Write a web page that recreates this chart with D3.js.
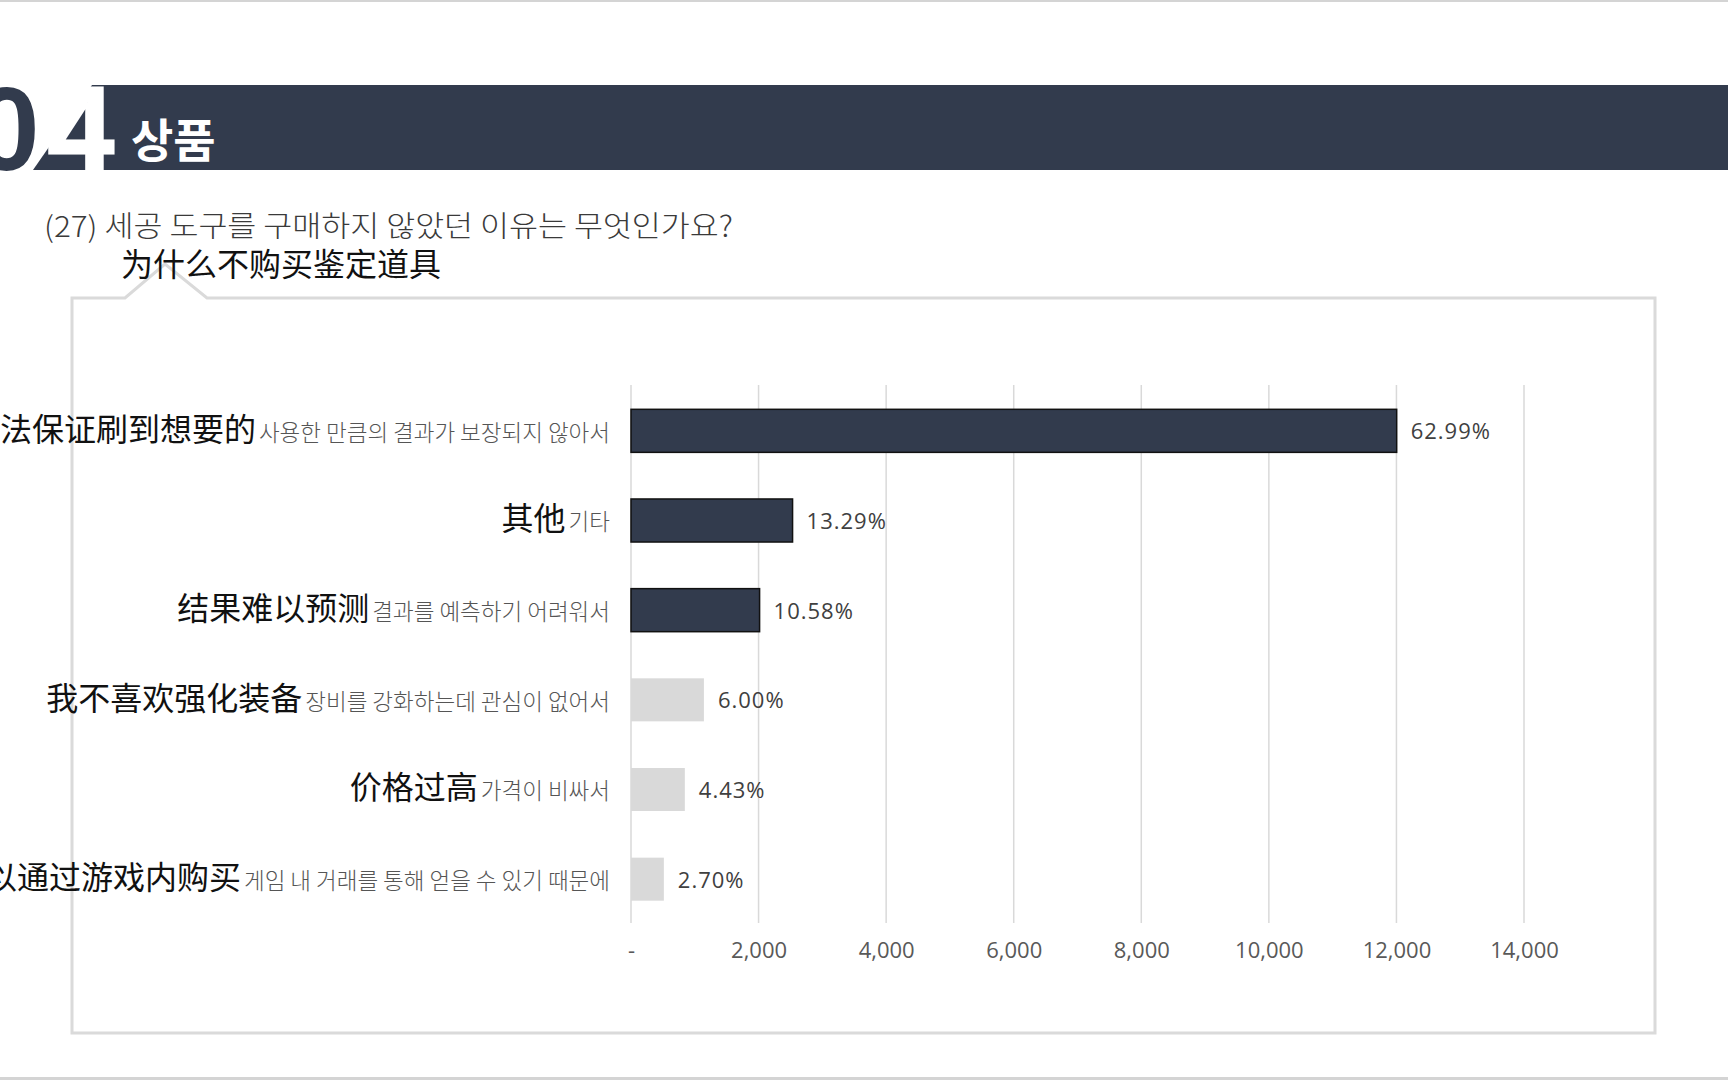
<!DOCTYPE html>
<html>
<head>
<meta charset="utf-8">
<script src="https://cdn.jsdelivr.net/npm/d3@7"></script>
<style>
  body { margin: 0; background: #fff; }
  svg { display: block; }
</style>
</head>
<body>
<svg id="chart"></svg>
<script>
// chart values
var categoriesZh = ["无法保证刷到想要的", "其他", "结果难以预测", "我不喜欢强化装备", "价格过高", "可以通过游戏内购买"]
var categoriesKo = ["사용한 만큼의 결과가 보장되지 않아서", "기타", "결과를 예측하기 어려워서",
                    "장비를 강화하는데 관심이 없어서", "가격이 비싸서", "게임 내 거래를 통해 얻을 수 있기 때문에"]
var counts = [12004, 2533, 2016, 1143, 844, 515]
var percents = [62.99, 13.29, 10.58, 6.00, 4.43, 2.70]
var xTicks = [0, 2000, 4000, 6000, 8000, 10000, 12000, 14000]

var sectionNo = "04"
var sectionTitle = "상품"
var questionKo = "(27) 세공 도구를 구매하지 않았던 이유는 무엇인가요?"
var questionZh = "为什么不购买鉴定道具"

var W = 1728, H = 1080
var dark = "#323b4d"
var light = "#d9d9d9"

var svg = d3.select("#chart").attr("width", W).attr("height", H)

svg.append("rect").attr("width", W).attr("height", H).attr("fill", "#fff")
// thin frame lines at top and bottom of the slide
svg.append("rect").attr("x", 0).attr("y", 0).attr("width", W).attr("height", 2).attr("fill", "#d4d4d4")
svg.append("rect").attr("x", 0).attr("y", 1077).attr("width", W).attr("height", 3).attr("fill", "#d4d4d4")

// header band
var header = svg.append("g")
header.append("rect")
  .attr("x", 106).attr("y", 85).attr("width", W - 106).attr("height", 85)
  .attr("fill", dark)
header.append("path")
  .attr("d", "M33,170 L92,85 L106,85 L106,170 Z")
  .attr("fill", dark)
header.append("text")
  .attr("x", -26).attr("y", 170)
  .attr("font-family", "'Liberation Sans', Arial, sans-serif")
  .attr("font-weight", "bold").attr("font-size", 118)
  .attr("fill", dark)
  .text(sectionNo[0])
header.append("text")
  .attr("x", 48).attr("y", 170)
  .attr("font-family", "'Liberation Sans', Arial, sans-serif")
  .attr("font-weight", "bold").attr("font-size", 118)
  .attr("fill", "#fff")
  .attr("stroke", "#fff").attr("stroke-width", 3).attr("paint-order", "stroke")
  .text(sectionNo[1])
header.append("text")
  .attr("x", 131).attr("y", 157)
  .attr("font-family", "'Noto Sans CJK KR', sans-serif")
  .attr("font-weight", "bold").attr("font-size", 46)
  .attr("fill", "#fff")
  .text(sectionTitle)

// box round the chart, with the little notch under the Chinese question
svg.append("path")
  .attr("d", "M72,298 H125 L165,264 L207,298 H1655 V1033 H72 Z")
  .attr("fill", "#fff")
  .attr("stroke", "#dadada")
  .attr("stroke-width", 3)

svg.append("text")
  .attr("x", 44).attr("y", 237)
  .attr("font-family", "'Noto Sans CJK KR', sans-serif")
  .attr("font-weight", 300).attr("font-size", 29)
  .attr("fill", "#3a3a3a")
  .attr("textLength", 689).attr("lengthAdjust", "spacingAndGlyphs")
  .text(questionKo)

svg.append("text")
  .attr("x", 121).attr("y", 276)
  .attr("font-family", "'Noto Sans CJK SC', sans-serif")
  .attr("font-weight", 400).attr("font-size", 32)
  .attr("fill", "#111")
  .text(questionZh)

// scales
var x = d3.scaleLinear().domain([0, 14000]).range([631, 1524])
var y = d3.scaleBand().domain(d3.range(counts.length)).range([386, 924]).paddingInner(0.52).paddingOuter(0.26)

// grid lines
svg.append("g")
  .selectAll("line")
  .data(xTicks)
  .enter()
  .append("line")
  .attr("x1", function(d) { return x(d) })
  .attr("x2", function(d) { return x(d) })
  .attr("y1", 385).attr("y2", 923)
  .attr("stroke", "#d9d9d9")
  .attr("stroke-width", 1.5)

// x axis labels
var xAxis = svg.append("g")
  .attr("transform", "translate(0,950)")
  .call(d3.axisBottom(x)
    .tickValues(xTicks)
    .tickSize(0)
    .tickFormat(function(d) { return d === 0 ? "-" : d3.format(",")(d) }))
xAxis.select(".domain").remove()
xAxis.selectAll("text")
  .attr("y", 0).attr("dy", "0.35em")
  .attr("font-family", "'Open Sans', sans-serif")
  .attr("font-size", 22)
  .attr("fill", "#595959")

// bars
svg.append("g")
  .selectAll("rect")
  .data(counts)
  .enter()
  .append("rect")
  .attr("x", x(0))
  .attr("y", function(d, i) { return y(i) })
  .attr("width", function(d) { return x(d) - x(0) })
  .attr("height", y.bandwidth())
  .attr("fill", function(d, i) { return i < 3 ? dark : light })
  .attr("stroke", function(d, i) { return i < 3 ? "#111" : "none" })
  .attr("stroke-width", 1.5)

// value labels
svg.append("g")
  .selectAll("text")
  .data(counts)
  .enter()
  .append("text")
  .attr("x", function(d) { return x(d) + 14 })
  .attr("y", function(d, i) { return y(i) + y.bandwidth() / 2 })
  .attr("dy", "0.38em")
  .attr("font-family", "'Open Sans', sans-serif")
  .attr("font-size", 22)
  .attr("letter-spacing", 1)
  .attr("fill", "#404040")
  .text(function(d, i) { return percents[i].toFixed(2) + "%" })

// category labels: Chinese in dark, Korean small and grey
var cat = svg.append("g")
  .selectAll("text")
  .data(categoriesZh)
  .enter()
  .append("text")
  .attr("x", 610)
  .attr("y", function(d, i) { return y(i) + y.bandwidth() / 2 + 4 })
  .attr("dy", "0.36em")
  .attr("text-anchor", "end")
cat.append("tspan")
  .attr("font-family", "'Noto Sans CJK SC', sans-serif")
  .attr("font-weight", 400)
  .attr("font-size", 32)
  .attr("fill", "#111")
  .text(function(d) { return d })
cat.append("tspan")
  .attr("dx", 3)
  .attr("font-family", "'Noto Sans CJK KR', sans-serif")
  .attr("font-weight", 300)
  .attr("font-size", 22.5)
  .attr("fill", "#555")
  .text(function(d, i) { return categoriesKo[i] })
</script>
</body>
</html>
